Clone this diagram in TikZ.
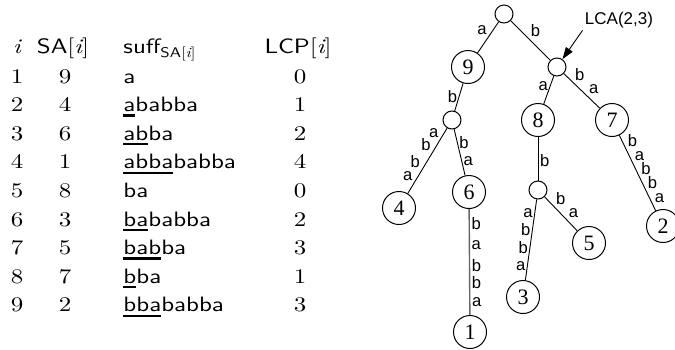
\documentclass[tikz,border=0pt]{standalone}
\usepackage{fontspec}
\usetikzlibrary{arrows.meta}
\newfontfamily\treeserif{Liberation Serif}
\newfontfamily\treesans{Liberation Sans}
\newfontfamily\tabrm{lmroman10-regular.otf}[FakeStretch=1.2]
\newfontfamily\tabit{lmroman10-italic.otf}[FakeStretch=1.2]
\newfontfamily\tabsf{lmsans10-regular.otf}[FakeStretch=1.2]
\newsavebox{\prebox}
\newcommand{\lcppre}[2]{\sbox{\prebox}{#1}\rlap{\rule[-2.6pt]{\wd\prebox}{1.2pt}}\usebox{\prebox}#2}
\newcommand{\tabarr}[1]{{\tabsf #1}{\tabrm[}{\tabit i}{\tabrm]}}
\tikzset{
  numnode/.style={circle,draw,line width=0.5pt,minimum size=16.5pt,inner sep=0pt,font=\treeserif\fontsize{11}{12}\selectfont},
  branch/.style={circle,draw,line width=0.5pt,minimum size=9pt,inner sep=0pt},
  lbl/.style={font=\treesans\fontsize{8.3}{9}\selectfont,inner sep=0.8pt},
  cell/.style={inner sep=0pt,anchor=base,font=\tabrm\fontsize{10.4}{12}\selectfont},
  sfcell/.style={inner sep=0pt,anchor=base west,font=\tabsf\fontsize{10.4}{12}\selectfont}
}
\begin{document}
\begin{tikzpicture}[x=0.5pt,y=-0.5pt,line width=0.45pt]
\useasboundingbox (0,0) rectangle (675,349);

% table
\node[cell] (hi) at (17,53) {\tabit i};
\node[cell] (hsa) at (63,53) {\tabarr{SA}};
\node[sfcell] (hsuf) at (123,53) {suff\raisebox{-2pt}{\fontsize{7}{8}\selectfont\tabarr{SA}}};
\node[cell] (hlcp) at (298,53) {\tabarr{LCP}};

\node[cell] (i1) at (17,83) {1}; \node[cell] (sa1) at (65,83) {9};
\node[sfcell] (suf1) at (123,83) {a}; \node[cell] (lcp1) at (300,83) {0};
\node[cell] (i2) at (17,111.6) {2}; \node[cell] (sa2) at (65,111.6) {4};
\node[sfcell] (suf2) at (123,111.6) {\lcppre{a}{babba}}; \node[cell] (lcp2) at (300,111.6) {1};
\node[cell] (i3) at (17,140.2) {3}; \node[cell] (sa3) at (65,140.2) {6};
\node[sfcell] (suf3) at (123,140.2) {\lcppre{ab}{ba}}; \node[cell] (lcp3) at (300,140.2) {2};
\node[cell] (i4) at (17,168.8) {4}; \node[cell] (sa4) at (65,168.8) {1};
\node[sfcell] (suf4) at (123,168.8) {\lcppre{abba}{babba}}; \node[cell] (lcp4) at (300,168.8) {4};
\node[cell] (i5) at (17,197.4) {5}; \node[cell] (sa5) at (65,197.4) {8};
\node[sfcell] (suf5) at (123,197.4) {ba}; \node[cell] (lcp5) at (300,197.4) {0};
\node[cell] (i6) at (17,226) {6}; \node[cell] (sa6) at (65,226) {3};
\node[sfcell] (suf6) at (123,226) {\lcppre{ba}{babba}}; \node[cell] (lcp6) at (300,226) {2};
\node[cell] (i7) at (17,254.6) {7}; \node[cell] (sa7) at (65,254.6) {5};
\node[sfcell] (suf7) at (123,254.6) {\lcppre{bab}{ba}}; \node[cell] (lcp7) at (300,254.6) {3};
\node[cell] (i8) at (17,283.2) {8}; \node[cell] (sa8) at (65,283.2) {7};
\node[sfcell] (suf8) at (123,283.2) {\lcppre{b}{ba}}; \node[cell] (lcp8) at (300,283.2) {1};
\node[cell] (i9) at (17,311.8) {9}; \node[cell] (sa9) at (65,311.8) {2};
\node[sfcell] (suf9) at (123,311.8) {\lcppre{bba}{babba}}; \node[cell] (lcp9) at (300,311.8) {3};

% suffix tree
\node[branch] (root) at (504,14) {};
\node[numnode] (n9) at (468,67) {9};
\node[branch] (lca) at (557,67) {};
\node[branch] (u) at (452,120) {};
\node[numnode] (n8) at (538,120) {8};
\node[numnode] (n7) at (612,120) {7};
\node[numnode] (n4) at (399,208) {4};
\node[numnode] (n6) at (469,192) {6};
\node[branch] (v) at (538,190) {};
\node[numnode] (n5) at (589,243) {5};
\node[numnode] (n2) at (663,226) {2};
\node[numnode] (n3) at (523,297) {3};
\node[numnode] (n1) at (470,332) {1};

\draw (root) -- (n9) node[lbl,pos=0.47,anchor=south east]{a};
\draw (root) -- (lca) node[lbl,pos=0.46,anchor=south west]{b};
\draw (n9) -- (u) node[lbl,pos=0.47,anchor=east]{b};
\draw (lca) -- (n8) node[lbl,pos=0.38,anchor=east]{a};
\draw (lca) -- (n7) node[lbl,pos=0.26,anchor=south west]{b} node[lbl,pos=0.65,anchor=south west]{a};
\draw (u) -- (n4) node[lbl,pos=0.17,anchor=south east]{a} node[lbl,pos=0.37,anchor=south east]{b}
  node[lbl,pos=0.64,anchor=south east]{b} node[lbl,pos=0.83,anchor=south east]{a};
\draw (u) -- (n6) node[lbl,pos=0.28,anchor=west]{b} node[lbl,pos=0.68,anchor=west]{a};
\draw[black!60,line width=0.7pt] (n6) -- (n1) node[black,lbl,pos=0.135,anchor=west]{b} node[black,lbl,pos=0.34,anchor=west]{a}
  node[black,lbl,pos=0.53,anchor=west]{b} node[black,lbl,pos=0.69,anchor=west]{b} node[black,lbl,pos=0.88,anchor=west]{a};
\draw (n8) -- (v) node[lbl,pos=0.55,anchor=west]{b};
\draw (v) -- (n3) node[lbl,pos=0.17,anchor=east]{a} node[lbl,pos=0.37,anchor=east]{b}
  node[lbl,pos=0.6,anchor=east]{b} node[lbl,pos=0.83,anchor=east]{a};
\draw (v) -- (n5) node[lbl,pos=0.29,anchor=south west]{b} node[lbl,pos=0.68,anchor=south west]{a};
\draw (n7) -- (n2) node[lbl,pos=0.18,anchor=south west]{b} node[lbl,pos=0.37,anchor=south west]{a}
  node[lbl,pos=0.55,anchor=south west]{b} node[lbl,pos=0.73,anchor=south west]{b} node[lbl,pos=0.92,anchor=south west]{a};

\node[font=\treesans\fontsize{8.5}{10}\selectfont,inner sep=1pt] (lcalbl) at (619,20) {LCA(2,3)};
\draw[-{Triangle[length=6pt,width=4pt]}] (lcalbl.south west) -- (lca);
\end{tikzpicture}
\end{document}
